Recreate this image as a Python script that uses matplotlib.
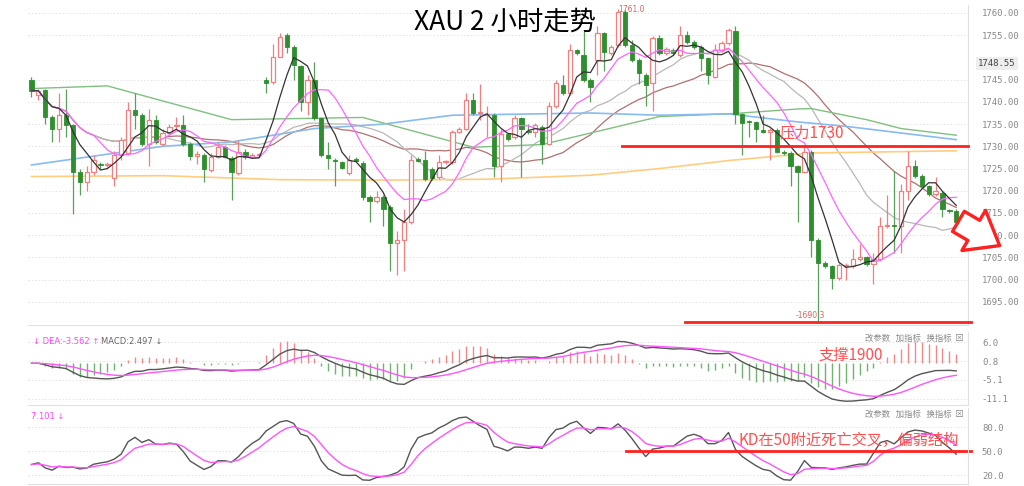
import matplotlib
matplotlib.use("Agg")
import matplotlib.pyplot as plt
import numpy as np
import pandas as pd

plt.rcParams['font.family'] = ['Noto Sans CJK SC', 'DejaVu Sans']

# XAU 2h candles
opens = [1745,1741.5,1742.7,1736.7,1734,1737,1734.8,1724.3,1722,1724.3,1726,1725.8,1722.8,1728,1728.5,1738.2,1737,1730.6,1736,1730.6,
         1733,1734.5,1734.8,1730.6,1727.8,1728,1724.7,1727.7,1729.9,1727.3,1724,1728.8,1727.7,1728,1745,1744.4,1750.2,1755,1752.4,1748,
         1740,1745,1736.3,1728,1727,1726.4,1724,1727.1,1726.3,1718.7,1717.6,1718.7,1716.4,1708.2,1709,1713,1727.2,1727,1725,1723,
         1726.4,1726.5,1733.3,1734,1740.4,1737.4,1737,1737,1725.6,1732.7,1732,1736.3,1733.3,1733.3,1734.4,1730.6,1739,1743.8,1742,1751.7,
         1750.6,1744.9,1749.4,1755.4,1751,1752.8,1760.3,1752.8,1749.4,1746,1744.2,1754.4,1751,1751.7,1750.6,1755,1753.5,1752.4,1749.8,1745.7,
         1751.7,1753.2,1755.9,1737.2,1735.6,1735.4,1733.7,1733.3,1733.7,1728.8,1728.5,1725.5,1724.3,1728.8,1709,1703.7,1703,1700.4,1703,1703,
         1704.6,1705,1703.5,1704.6,1712,1712.3,1712,1720,1725.5,1723.3,1721,1719.2,1719.6,1715.6,1715.4]
closes = [1742.5,1742.5,1736.7,1734,1737,1734.8,1724.3,1722,1724.3,1727,1725.7,1726,1728,1731.4,1738.2,1737,1730.6,1736,1731,1733,
          1734.4,1734.8,1730.6,1727.8,1728.3,1724.8,1727.7,1729.9,1727.7,1724.3,1728.8,1727.7,1728,1728.2,1744.3,1750.2,1754.7,1752.4,1748.3,1740,
          1745,1736.3,1728,1727.3,1726.6,1725.2,1727,1726.8,1718.7,1717.6,1718.7,1716,1708.2,1709,1713,1727,1726.8,1722.7,1722.8,1726.4,
          1726.6,1733.3,1734,1740.4,1737.4,1737.6,1737.2,1725.6,1732.7,1731.6,1736.3,1734,1733.2,1734.8,1730.6,1739,1744.2,1742,1751.7,1751,
          1744.9,1743.4,1755.4,1751.3,1752.4,1760.3,1752.8,1749.4,1746.4,1743.8,1754.4,1751,1752,1751,1755,1753.5,1752.4,1749.8,1746,1751.7,
          1753.2,1756.2,1737.2,1735.3,1735.4,1734,1733.3,1733.7,1728.8,1728.5,1725.5,1724.3,1728.8,1709,1703.7,1703,1700.4,1703.4,1703.4,1704.6,
          1705,1703.5,1704.6,1712,1712.3,1712,1720,1725.5,1723.3,1721,1719.2,1720,1715.9,1715.4,1713]
highs = [1745.5,1743,1743,1737,1742,1743,1735,1725,1725.5,1728,1726.5,1726.5,1729,1732,1740,1742,1737.5,1738.5,1737,1734,
         1735,1736.5,1737,1731,1729,1728.5,1728.5,1731,1730.3,1727.8,1731.5,1729.3,1728.4,1728.6,1745.5,1753,1755.5,1755.5,1752.8,1748.3,
         1746,1749,1736.6,1731,1727.3,1726.7,1728,1727.5,1726.6,1719,1720,1719,1716.7,1711,1716,1728,1727.6,1729,1725.4,1728,
         1727,1733.7,1734.4,1742,1742,1744,1739,1737.4,1734,1733,1737,1736.7,1735,1735.2,1734.8,1740,1745,1746,1753,1752,
         1756,1745.3,1757,1755.8,1752.8,1761,1760.7,1754,1749.8,1746.4,1754.8,1755,1752.4,1752.1,1757,1756,1753.9,1752.8,1750.2,1753,
         1753.6,1756.6,1757,1737.6,1736,1735.8,1737,1734.1,1734.1,1729.2,1728.9,1725.9,1730,1729.2,1709.4,1704.1,1703.4,1703.8,1703.8,1707,
         1708,1705.4,1706,1714,1719,1724.5,1721.5,1729,1727,1723.7,1721.4,1723,1720,1716,1715.8]
lows = [1741,1740.5,1735,1731,1731,1732,1714.8,1719,1720,1723.5,1725,1725.3,1721,1727,1728,1734,1730,1725.5,1730.5,1730,
        1732.5,1734,1730,1727,1726,1722,1724.3,1727.3,1727.3,1718,1723.5,1727.2,1727.3,1727.6,1742,1744,1750,1751,1745,1738,
        1737,1736,1727.5,1725,1721,1724.8,1723.6,1726.4,1718,1713,1717.2,1712,1702,1701,1702,1712.6,1726.4,1722.3,1722.4,1722.6,
        1726,1726.1,1732.9,1733.6,1737,1736,1732,1723,1722,1731.2,1731.6,1723,1732.8,1732,1726,1730.2,1738.6,1741.6,1741.6,1750.6,
        1744.5,1740,1746,1747,1750.6,1752.4,1752.4,1749,1744,1739,1738,1750.6,1750.6,1750.6,1750.2,1753.1,1752,1747,1744,1745.3,
        1751.3,1752.8,1735,1728,1732,1731,1733,1727,1728.4,1728.1,1721,1713,1723.9,1705,1690.3,1702.6,1698,1700,1700,1702.6,
        1704.2,1703.1,1699,1704.2,1711.6,1706,1706,1718,1722.9,1720.6,1718.8,1718.8,1714,1715,1712.6]

# long moving averages, read at a few candles
green_idx = [0,11,29,48,64,74,91,102,111,113,121,126,134]
green_val = [1743,1743.6,1736,1736.5,1729.8,1730.4,1736.7,1737.4,1738.4,1738.5,1736,1734,1732.5]
blue_idx = [0,19,29,41,51,61,81,91,101,111,118,126,134]
blue_val = [1725.8,1730,1731,1734,1735,1737,1737.5,1737,1737.3,1735.5,1734.5,1733,1731.5]
orange_idx = [0,19,36,51,66,81,91,101,113,134]
orange_val = [1723.2,1723.4,1722.5,1722.4,1722.6,1723.5,1725,1726.8,1728.5,1729]

price_ticks = [1760,1755,1745,1740,1735,1730,1725,1720,1715,1710,1705,1700,1695]
macd_ticks = [6.0,0.8,-5.1,-11.1]
kd_ticks = [80.0,50.0,20.0]

o = np.array(opens); c = np.array(closes); h = np.array(highs); l = np.array(lows)
x = np.arange(len(c))
cs = pd.Series(c)

RED = '#f08080'
GRN = '#2f8f2f'
GRID = '#e4e4e4'

fig = plt.figure(figsize=(10.24, 4.86), dpi=100)
W, H = 1024, 486
def box(x0, y0, x1, y1):
    return [x0 / W, 1 - y1 / H, (x1 - x0) / W, (y1 - y0) / H]

ax = fig.add_axes(box(28, 5, 968, 325))
ax2 = fig.add_axes(box(28, 332, 968, 405))
ax3 = fig.add_axes(box(28, 408, 968, 484))

for a in (ax, ax2, ax3):
    a.set_xlim(-0.5, len(c) + 0.7)
    a.yaxis.tick_right()
    a.tick_params(axis='y', length=0, pad=10, labelsize=6.5, labelcolor='#888888')
    a.tick_params(axis='x', length=0, labelbottom=False)
    for s in a.spines.values():
        s.set_color('#e0e0e0')
        s.set_linewidth(0.8)
    a.spines['left'].set_visible(False)
    a.spines['top'].set_visible(False)
    a.grid(axis='y', color=GRID, linestyle=(0, (1.5, 2)), linewidth=0.7)

# candles
up = c >= o
ax.vlines(x[up], l[up], h[up], color=RED, linewidth=0.9, zorder=3)
ax.vlines(x[~up], l[~up], h[~up], color='#5aa05a', linewidth=0.9, zorder=3)
ax.bar(x[up], np.maximum(c[up] - o[up], 0.25), bottom=o[up], width=0.62,
       facecolor='white', edgecolor=RED, linewidth=0.9, zorder=4)
ax.bar(x[~up], np.maximum(o[~up] - c[~up], 0.25), bottom=c[~up], width=0.62,
       color=GRN, edgecolor=GRN, linewidth=0.6, zorder=4)

# moving averages
ax.plot(x, cs.rolling(30, min_periods=1).mean(), color='#b07070', lw=0.9, zorder=2)
ax.plot(x, cs.rolling(20, min_periods=1).mean(), color='#b8b8b8', lw=0.9, zorder=2)
ax.plot(x, cs.rolling(10, min_periods=1).mean(), color='#ff66ff', lw=0.9, zorder=5)
ax.plot(x, cs.rolling(5, min_periods=1).mean(), color='#333333', lw=0.9, zorder=5)
ax.plot(green_idx, green_val, color='#80c080', lw=1.0, zorder=2)
ax.plot(blue_idx, blue_val, color='#88bbee', lw=1.2, zorder=2)
ax.plot(orange_idx, orange_val, color='#ffcc80', lw=1.2, zorder=2)

ax.set_ylim(1689.8, 1761.8)
ax.set_yticks(price_ticks)
ax.set_yticklabels([f'{v:.2f}' for v in price_ticks], family='DejaVu Sans Mono')

# annotations on price panel
ax.plot([85.5, len(c) + 0.7], [1730, 1730], color='#ff2020', lw=2, zorder=6, clip_on=False)
ax.plot([94.7, len(c) + 1.2], [1690.4, 1690.4], color='#ff2020', lw=2, zorder=6, clip_on=False)
ax.text(113, 1731.2, '压力1730', color='#ff5050', fontsize=11, ha='center', va='bottom', zorder=7)
ax.text(112.8, 1690.9, '-1690.3', color='#e06060', fontsize=5.5, ha='center', va='bottom', family='DejaVu Sans')
ax.text(85, 1760.7, '1761.0', color='#e06060', fontsize=5.5, ha='left', va='center', family='DejaVu Sans')
ax.text(1.0105, 1748.55, '1748.55', transform=ax.get_yaxis_transform(), fontsize=6.5, color='#444444',
        family='DejaVu Sans Mono', va='center', ha='left',
        bbox=dict(facecolor='#eeeeee', edgecolor='none', pad=1.5))
fig.text(505 / W, 1 - 22 / H, 'XAU 2 小时走势', fontsize=19, ha='center', va='center')
fig.add_artist(matplotlib.patches.FancyArrowPatch(
    (956, H - 220), (1002, H - 247), transform=None,
    arrowstyle='simple,head_width=1.4,head_length=0.9,tail_width=0.7',
    mutation_scale=24, facecolor='white', edgecolor='#ff2020', linewidth=2.4, zorder=10))

# MACD
ema12 = cs.ewm(span=12, adjust=False).mean()
ema26 = cs.ewm(span=26, adjust=False).mean()
dif = ema12 - ema26
dea = dif.ewm(span=9, adjust=False).mean()
hist = 2 * (dif - dea)
ax2.vlines(x, 0, hist, color=np.where(hist >= 0, '#f08a8a', '#6fb36f'), linewidth=1.0)
ax2.plot(x, dif, color='#555555', lw=1.0)
ax2.plot(x, dea, color='#ff55ff', lw=1.0)
lim = max(abs(hist).max(), abs(dif).max()) * 1.1
ax2.set_ylim(-lim, lim * 0.75)
ax2.set_yticks([lim * 0.5, 0.05 * lim, -lim * 0.4, -lim * 0.85])
ax2.set_yticklabels([f'{v:.1f}' for v in macd_ticks], family='DejaVu Sans Mono')
ax2.text(0.005, 0.93, '↓ DEA:-3.562 ↑', transform=ax2.transAxes, color='#ff44ff', fontsize=6, va='top', family='DejaVu Sans')
ax2.text(0.078, 0.93, 'MACD:2.497 ↓', transform=ax2.transAxes, color='#666666', fontsize=6, va='top', family='DejaVu Sans')
ax2.text(0.875, 0.80, '支撑1900', transform=ax2.transAxes, color='#ff5050', fontsize=11, va='top', ha='center')

# KD
ll = pd.Series(l).rolling(9, min_periods=1).min()
hh = pd.Series(h).rolling(9, min_periods=1).max()
rsv = 100 * (cs - ll) / (hh - ll)
k = rsv.ewm(alpha=1 / 3, adjust=False).mean()
d = k.ewm(alpha=1 / 3, adjust=False).mean()
ax3.plot(x, k, color='#555555', lw=1.0)
ax3.plot(x, d, color='#ff55ff', lw=1.0)
ax3.set_ylim(9, 104)
ax3.set_yticks(kd_ticks)
ax3.set_yticklabels([f'{v:.1f}' for v in kd_ticks], family='DejaVu Sans Mono')
ax3.plot([86.2, len(c) + 1.2], [50, 50], color='#ff2020', lw=2, clip_on=False)
ax3.text(102.5, 53, 'KD在50附近死亡交叉，偏弱结构', color='#ff5050', fontsize=11, va='bottom')
ax3.text(0.003, 0.95, '7.101 ↓', transform=ax3.transAxes, color='#ff44ff', fontsize=6, va='top', family='DejaVu Sans')

for a in (ax2, ax3):
    a.text(0.995, 0.97, '改参数   加指标   换指标  ⊠', transform=a.transAxes, color='#888888',
           fontsize=6, va='top', ha='right', family=['Noto Sans CJK SC', 'DejaVu Sans'])

fig.savefig('out.png', dpi=100, facecolor='white')
